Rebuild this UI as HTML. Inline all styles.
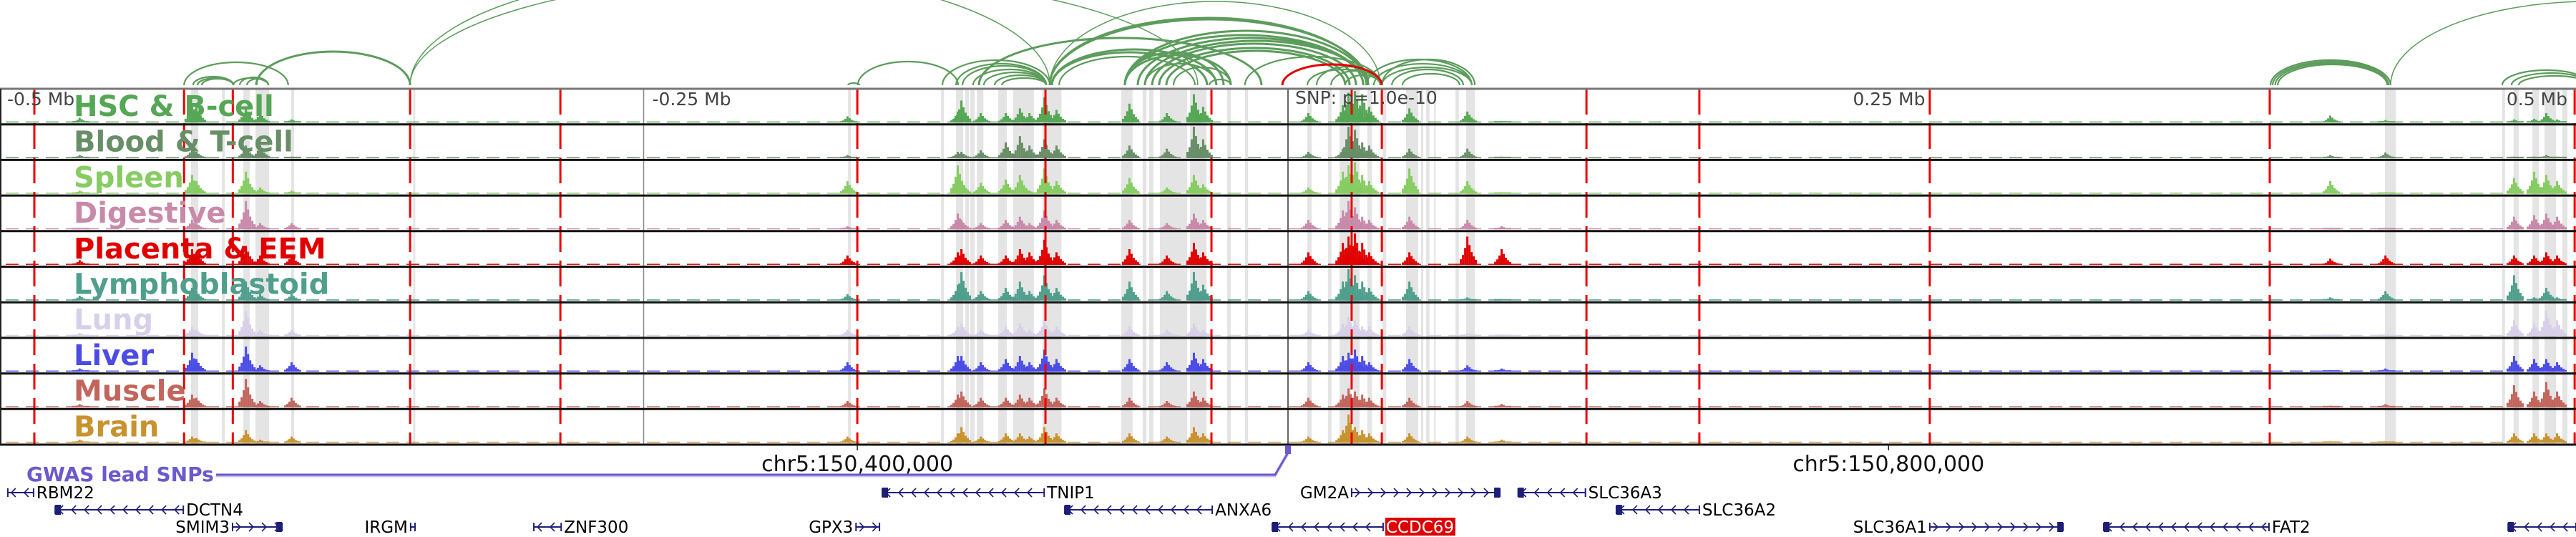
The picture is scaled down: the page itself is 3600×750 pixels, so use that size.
<!DOCTYPE html>
<html><head><meta charset="utf-8"><style>
html,body{margin:0;padding:0;background:#fff;}
svg{display:block;font-family:"DejaVu Sans","Liberation Sans",sans-serif;}
</style></head><body>
<svg id="chart" width="3600" height="750" viewBox="0 0 3600 750" xmlns="http://www.w3.org/2000/svg">
<g id="grey"></g>
<g id="arcs"></g>
<g id="tracks"></g>
<g id="vlines"></g>
<g id="borders"></g>
<g id="labels"></g>
<g id="axis"></g>
<g id="genes"></g>
</svg>
<script>
// ---- data (genomic offsets in kb relative to lead SNP) ----
const greyStarts=[-425.6,-413.6,-405.3,-400.6,-386.7,-339.4,-170.7,-134.6,-128.8,-125.2,-123.3,-120.7,-112.4,-106.6,-95.3,-64.7,-56.4,-53.9,-49.7,-38.0,-23.6,-16.7,7.5,15.5,20.0,25.3,30.8,36.7,45.8,49.1,51.6,53.6,56.7,65.0,69.1,425.6,471.1,475.5,482.8,487.5,494.4];
const greyEnds=[-422.8,-412.5,-402.8,-395.3,-385.6,-338.6,-169.6,-133.5,-126.0,-123.8,-121.6,-118.2,-109.1,-98.6,-87.9,-60.3,-54.9,-52.2,-39.1,-31.6,-22.2,-15.5,9.2,16.9,24.4,27.8,32.6,38.1,49.4,50.5,52.5,54.9,57.3,66.3,72.5,429.8,472.2,477.5,485.3,492.0,496.4];
const redLines=[-486.4,-428.3,-409.4,-340.6,-282.3,-167.1,-94.1,-29.7,24.7,36.4,115.8,159.6,249.0,380.9,499.2];
const peakPos=[-468.4,-424.8,-423.1,-403.9,-398.4,-386.2,-170.5,-127.7,-126.3,-118.8,-109.1,-103.6,-99.9,-94.1,-89.4,-61.1,-46.6,-36.1,-32.5,8.3,21.7,23.9,26.4,29.2,31.9,47.5,70.0,83.3,404.8,426.2,476.1,483.9,488.6,492.8];
const trackNames=["HSC & B-cell","Blood & T-cell","Spleen","Digestive","Placenta & EEM","Lymphoblastoid","Lung","Liver","Muscle","Brain"];
const hsc=[.15,.6,.5,.5,.3,.1,.2,.35,.7,.3,.3,.45,.3,.8,.4,.6,.3,.9,.5,.3,.55,.95,1,.9,.5,.45,.35,.05,.22,.08,.1,.12,.3,.1];
const blood=[.1,.3,.2,.4,.4,.05,.1,.2,.2,.25,.5,.7,.4,.6,.4,.4,.3,1,.6,.2,.3,1,.9,.5,.4,.3,.3,.05,.1,.18,.05,.05,.1,.05];
const spleen=[.1,.6,.4,.7,.2,.1,.4,.9,.4,.35,.45,.6,.1,.8,.4,.5,.2,.6,.3,.2,.7,.9,1,.6,.4,.8,.4,.05,.4,.05,.5,.7,.6,.4];
const digestive=[.05,.3,.2,.9,.2,.2,.1,.5,.3,.2,.3,.4,.2,.6,.3,.3,.2,.5,.3,.3,.6,.9,.7,.4,.3,.4,.3,.1,.05,.05,.4,.45,.5,.4];
const placenta=[.15,.5,.4,.6,.3,.3,.3,.4,.5,.3,.3,.5,.4,.8,.4,.5,.3,.7,.4,.4,.7,.9,1,.7,.4,.4,.9,.5,.2,.3,.3,.3,.4,.3];
const lymph=[.15,.4,.3,.6,.2,.2,.2,.5,.9,.3,.4,.6,.3,.8,.4,.6,.3,.9,.5,.3,.6,1,.8,.6,.4,.6,.1,.05,.1,.3,.8,.1,.4,.1];
const lung=[.1,.3,.2,.8,.2,.2,.2,.3,.4,.2,.3,.4,.2,.5,.3,.3,.2,.4,.2,.2,.4,.6,.5,.3,.3,.3,.1,.05,.05,.05,.5,.4,.8,.5];
const liver=[.1,.6,.4,.8,.2,.3,.3,.5,.5,.3,.4,.5,.3,.7,.4,.4,.3,.6,.4,.3,.5,.6,.7,.5,.3,.4,.2,.1,.05,.1,.5,.4,.4,.3];
const muscle=[.1,.4,.3,.9,.2,.3,.2,.4,.5,.3,.3,.4,.3,.6,.3,.3,.2,.5,.3,.3,.4,.6,.5,.4,.3,.3,.2,.1,.05,.1,.7,.5,.8,.5];
const brain=[.1,.2,.15,.4,.1,.2,.2,.3,.5,.2,.3,.3,.2,.5,.3,.3,.2,.5,.3,.2,.4,.9,.5,.4,.3,.3,.2,.1,.05,.05,.3,.3,.3,.3];
const arcStart=[-428.3,-424.8,-423.1,-421.4,-409.2,-406.7,-403.9,-400.3,-340.6,-340.6,-170.7,-166.9,-134.1,-128.8,-126.3,-122.2,-118.0,-113.8,-111.0,-92.4,-92.4,-92.4,-119.9,-91.6,-91.6,-88.8,-63.3,-63.3,-58.3,-55.5,-52.7,-50.0,-47.2,-63.3,-63.3,-55.5,-44.4,-30.5,-16.7,7.5,11.1,16.7,22.2,30.5,33.3,36.4,36.4,40.3,44.4,381.2,382.0,383.0,384.0,427.8,471.1,474.7,477.5];
const arcEnd=[-387.9,-409.2,-409.2,-409.2,-395.6,-395.6,-395.6,-340.6,-92.4,-35.0,-166.3,-128.0,-92.4,-93.8,-93.8,-93.8,-93.8,-93.8,-93.8,35.8,30.5,31.1,-10.3,-31.4,-27.8,-36.1,30.5,29.2,29.2,30.5,26.4,23.9,22.2,-25.0,-22.2,-27.8,-22.2,-22.2,36.1,35.8,35.8,35.8,35.8,71.3,71.3,71.3,72.5,68.0,66.6,427.8,427.8,427.0,426.5,583.0,505.3,505.3,505.3];
const arcScore=[32,12,10,9,10,11,9,47,159,154,3,33,35,30,27,22,18,14,10,117,94,92,66,46,50,40,76,70,66,62,58,52,48,46,42,30,25,8,40,22,26,20,14,36,30,25,36,22,16,35,33,31,29,117,21,17,13];
const leadArc=[-2.2,36.4,29];
const axisTicks=[-500,-250,250,500];
const axisLabels=["-0.5 Mb","-0.25 Mb","0.25 Mb","0.5 Mb"];
const coordTicks=[-167.1,233.0];
const coordLabels=["chr5:150,400,000","chr5:150,800,000"];
const geneNames=["RBM22","DCTN4","SMIM3","IRGM","ZNF300","GPX3","TNIP1","ANXA6","CCDC69","GM2A","SLC36A3","SLC36A2","SLC36A1","FAT2",""];
const geneStart=[-496.7,-478.3,-409.5,-340.4,-292.6,-167.6,-157.4,-86.6,-6.1,24.7,89.3,127.4,249.0,316.5,473.4];
const geneEnd=[-486.7,-428.6,-390.3,-338.7,-282.0,-158.5,-94.6,-29.4,36.9,82.2,115.4,159.6,300.7,380.6,500.0];
const geneStrand=[-1,-1,1,1,-1,1,-1,-1,-1,1,-1,-1,1,-1,-1];
const geneRow=[0,1,2,2,2,2,0,1,2,0,0,1,2,2,2];
const geneLabelSide=[1,1,-1,-1,1,-1,1,1,1,-1,1,1,-1,1,1];

// ---- scales ----
const X=kb=>1800+kb*3.602;
const T0=124, TH=49.7;
const NS="http://www.w3.org/2000/svg";
function mk(tag,parent,attrs){const e=document.createElementNS(NS,tag);for(const k in attrs)e.setAttribute(k,attrs[k]);parent.appendChild(e);return e;}
const G=id=>document.getElementById(id);
const trackColors=["#55a655","#688e68","#86cc62","#c98aaa","#e00000","#4f9f8c","#d8d0e8","#4b4be6","#c2655c","#c8922e"];
const series=[hsc,blood,spleen,digestive,placenta,lymph,lung,liver,muscle,brain];
const tBottom=T0+TH*10;

for(let i=0;i<greyStarts.length;i++){
  const r=mk('rect',G('grey'),{x:X(greyStarts[i]),y:T0,width:Math.max(2,X(greyEnds[i])-X(greyStarts[i])),height:tBottom-T0,fill:'#e4e4e4'});
  
  
}
const baseY=119;
function arc(a,b,h,col,w,name){
  const x1=X(a),x2=X(b),rx=(x2-x1)/2;
  const p=mk('path',G('arcs'),{d:`M${x1},${baseY} A${rx},${h} 0 0 1 ${x2},${baseY}`,fill:'none',stroke:col,'stroke-width':w});
  
  
}
for(let i=0;i<arcStart.length;i++){
  const w=arcScore[i]>100?1.5:(arcScore[i]>40?3:2.2);
  arc(arcStart[i],arcEnd[i],arcScore[i],'#5c9c5c',w,'loop-arc');
}
arc(leadArc[0],leadArc[1],leadArc[2],'#e00000',3,'lead-snp-arc');

const prof=[.2,.35,.6,1,.7,.45,.3,.18];
for(let t=0;t<10;t++){
  const g=mk('g',G('tracks'),{});
  
  
  const top=T0+TH*t, bot=top+TH-2.5, col=trackColors[t];
  mk('line',g,{x1:8,x2:3588,y1:bot-0.8,y2:bot-0.8,stroke:col,'stroke-width':1.6,'stroke-dasharray':'18,10','opacity':0.9});
  const vals=series[t];
  for(let i=0;i<peakPos.length;i++){
    const cx=X(peakPos[i]);const hh=vals[i]*44;
    for(let k=0;k<prof.length;k++){
      const h=Math.max(2,hh*prof[k]);
      const b=mk('rect',g,{x:cx-12+k*3,y:bot-h,width:3,height:h,fill:col});
      
      
    }
  }
}
for(const v of redLines){
  const l=mk('line',G('vlines'),{x1:X(v),x2:X(v),y1:T0,y2:tBottom,stroke:'#ee0000','stroke-width':3,'stroke-dasharray':'36,12'});
  
  
}
mk('line',G('vlines'),{x1:X(-250),x2:X(-250),y1:T0,y2:tBottom,stroke:'#888','stroke-width':1.5});
const snpLine=mk('line',G('vlines'),{x1:1800,x2:1800,y1:T0,y2:tBottom,stroke:'#666','stroke-width':2});



mk('line',G('borders'),{x1:0,x2:3600,y1:T0,y2:T0,stroke:'#777','stroke-width':3});
for(let t=1;t<=10;t++){mk('line',G('borders'),{x1:0,x2:3600,y1:T0+TH*t,y2:T0+TH*t,stroke:'#111','stroke-width':3});}
mk('line',G('borders'),{x1:1,x2:1,y1:T0,y2:tBottom,stroke:'#222','stroke-width':2});

for(let t=0;t<10;t++){
  const tx=mk('text',G('labels'),{x:103,y:T0+TH*t+38,fill:trackColors[t],'font-size':40,'font-weight':'bold'});
  tx.textContent=trackNames[t];
  
  
}
for(let i=0;i<axisTicks.length;i++){
  const x=X(axisTicks[i]);
  let xx,anchor;
  if(i===0){xx=10;anchor='start';}
  else if(i===axisTicks.length-1){xx=3588;anchor='end';}
  else if(axisTicks[i]<0){xx=x+12;anchor='start';}
  else {xx=x-10;anchor='end';}
  const tx=mk('text',G('axis'),{x:xx,y:147,fill:'#444','font-size':25,'text-anchor':anchor});
  tx.textContent=axisLabels[i];
  
  
}
const snpT=mk('text',G('axis'),{x:1810,y:145,fill:'#444','font-size':25});
snpT.textContent='SNP: p=1.0e-10';


for(let i=0;i<coordTicks.length;i++){
  const x=X(coordTicks[i]);
  mk('line',G('axis'),{x1:x,x2:x,y1:tBottom,y2:tBottom+8,stroke:'#222','stroke-width':1.5});
  const tx=mk('text',G('axis'),{x:x,y:658,fill:'#111','font-size':30,'text-anchor':'middle'});
  tx.textContent=coordLabels[i];
  
  
}
const gw=G('genes');
mk('polyline',gw,{points:`302,665 1782,665 1800,634`,fill:'none',stroke:'#c8c2ee','stroke-width':3});
mk('polyline',gw,{points:`302,663 1782,663 1800,632`,fill:'none',stroke:'#6a5acd','stroke-width':3});
const snpMark=mk('rect',gw,{x:1796,y:622,width:8,height:12,fill:'#6a5acd'});


const gwT=mk('text',gw,{x:37,y:672,fill:'#6a5acd','font-size':28,'font-weight':'bold'});
gwT.textContent='GWAS lead SNPs';



const rowY=[688,712,736];
for(let i=0;i<geneNames.length;i++){
  const g=mk('g',gw,{});
  
  
  const x1=X(geneStart[i]),x2=Math.min(3600,X(geneEnd[i])),y=rowY[geneRow[i]],c='#1e1e78';
  mk('line',g,{x1:x1,x2:x2,y1:y,y2:y,stroke:c,'stroke-width':2});
  mk('line',g,{x1:x1,x2:x1,y1:y-6,y2:y+6,stroke:c,'stroke-width':2});
  mk('line',g,{x1:x2,x2:x2,y1:y-6,y2:y+6,stroke:c,'stroke-width':2});
  for(let x=x1+8;x<x2-4;x+=18){
    const s=geneStrand[i];
    mk('polyline',g,{points:`${x-3*s},${y-6} ${x+3*s},${y} ${x-3*s},${y+6}`,fill:'none',stroke:c,'stroke-width':1.6});
  }
  if(x2-x1>60){
    const bx=geneStrand[i]<0?x1:x2-8;
    mk('rect',g,{x:bx,y:y-7,width:8,height:14,fill:c});
  }
  if(geneNames[i]){
    const side=geneLabelSide[i];
    const lx=side>0?x2+4:x1-4;
    if(geneNames[i]==='CCDC69'){mk('rect',g,{x:lx-1,y:y-13,width:98,height:25,fill:'#dd0000'});}
    const tx=mk('text',g,{x:lx,y:y+8,fill:geneNames[i]==='CCDC69'?'#fff':'#000','font-size':23,'text-anchor':side>0?'start':'end'});
    tx.textContent=geneNames[i];
  }
}
</script>
</body></html>
